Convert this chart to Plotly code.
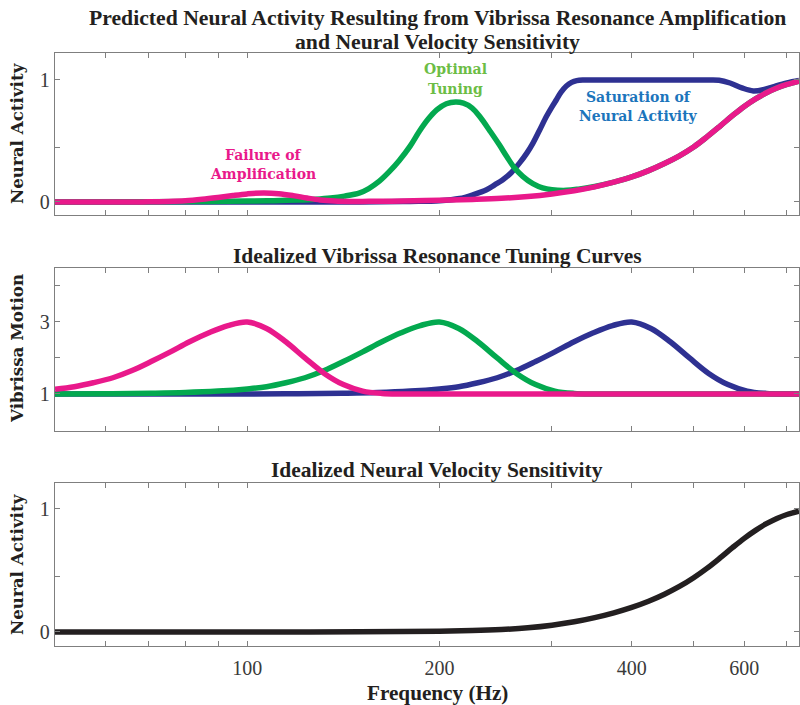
import math
import plotly.graph_objects as go

# ---------------- data ----------------
# Panel 1: predicted neural activity (tuning curve fed through velocity sensitivity)
act_blue_f = [50, 150, 180, 200, 215, 226, 237, 244, 251, 259, 267, 274, 280, 287, 294, 300, 305,
              310, 316, 322, 328, 336, 350, 380, 420, 460, 500, 525, 548, 570, 595, 620, 645, 670,
              700, 731]
act_blue_v = [0.0, 0.0, 0.004, 0.01, 0.028, 0.06, 0.1, 0.14, 0.18, 0.24, 0.32, 0.4, 0.48, 0.59,
              0.7, 0.78, 0.84, 0.9, 0.95, 0.98, 0.995, 1.0, 1.0, 1.0, 1.0, 1.0, 1.0, 1.0, 0.998,
              0.975, 0.935, 0.91, 0.922, 0.948, 0.975, 0.995]

act_green_f = [50, 70, 85, 100, 110, 120, 128, 135, 142, 150, 155, 161, 167, 173, 180, 186, 192,
               198, 205, 212, 218, 225, 232, 240, 248, 255, 262, 270, 280, 290, 300, 316, 330, 350,
               375, 400, 425, 450, 475, 500, 525, 550, 575, 600, 625, 650, 675, 700, 731]
act_green_v = [0.0, 0.001, 0.004, 0.008, 0.01, 0.015, 0.022, 0.032, 0.048, 0.075, 0.11, 0.17,
               0.25, 0.34, 0.46, 0.58, 0.68, 0.755, 0.805, 0.82, 0.81, 0.77, 0.69, 0.58, 0.47,
               0.37, 0.28, 0.21, 0.15, 0.115, 0.1, 0.095, 0.105, 0.127, 0.162, 0.205, 0.257,
               0.315, 0.378, 0.45, 0.535, 0.622, 0.707, 0.783, 0.845, 0.895, 0.934, 0.963, 0.99]

act_pink_f = [50, 65, 70, 75, 80, 85, 90, 95, 100, 106, 112, 118, 124, 130, 137, 145, 155, 165,
              175, 200, 225, 250, 275, 300, 325, 350, 375, 400, 425, 450, 475, 500, 525, 550,
              575, 600, 625, 650, 675, 700, 731]
act_pink_v = [0.0, 0.0, 0.001, 0.004, 0.01, 0.022, 0.037, 0.053, 0.066, 0.074, 0.068, 0.052,
              0.032, 0.016, 0.007, 0.004, 0.005, 0.006, 0.008, 0.014, 0.021, 0.03, 0.045, 0.066,
              0.092, 0.124, 0.162, 0.205, 0.257, 0.315, 0.378, 0.45, 0.535, 0.622, 0.707, 0.783,
              0.845, 0.895, 0.934, 0.963, 0.99]

# Panel 2: idealized vibrissa resonance tuning curves (peaks at 100, 200 and 400 Hz)
tune_pink_f = [50, 53.6, 57.4, 61.6, 66, 70.7, 75.8, 81.2, 87.1, 93.3, 100, 107.2, 114.9, 123.1,
               132, 141.4, 151.6, 162.5, 174.1, 200, 250, 320, 400, 520, 731]
tune_pink_v = [1.13, 1.2, 1.31, 1.45, 1.65, 1.9, 2.17, 2.45, 2.7, 2.9, 3.0, 2.82, 2.45, 2.0, 1.57,
               1.26, 1.08, 1.015, 1.0, 1.0, 1.0, 1.0, 1.0, 1.0, 1.0]

tune_green_f = [50, 60, 70.7, 80, 90, 100, 107.2, 114.9, 123.1, 132, 141.4, 151.6, 162.5, 174.1,
                186.6, 200, 214.4, 229.7, 246.2, 263.9, 282.8, 303.1, 324.9, 348.2, 400, 500, 600,
                731]
tune_green_v = [1.0, 1.005, 1.02, 1.04, 1.08, 1.14, 1.2, 1.31, 1.45, 1.65, 1.9, 2.17, 2.45, 2.7,
                2.9, 3.0, 2.82, 2.45, 2.0, 1.57, 1.26, 1.08, 1.015, 1.0, 1.0, 1.0, 1.0, 1.0]

tune_blue_f = [50, 70.7, 100, 120, 141, 160, 180, 200, 214.4, 229.7, 246.2, 263.9, 282.8, 303.1,
               324.9, 348.2, 373.2, 400, 428.7, 459.5, 492.5, 527.8, 565.7, 606.3, 649.8, 696.4,
               731]
tune_blue_v = [1.0, 1.0, 1.0, 1.005, 1.02, 1.04, 1.08, 1.14, 1.2, 1.31, 1.45, 1.65, 1.9, 2.17,
               2.45, 2.7, 2.9, 3.0, 2.82, 2.45, 2.0, 1.57, 1.26, 1.08, 1.015, 1.0, 1.0]

# Panel 3: idealized neural velocity sensitivity
vel_f = [50, 100, 125, 150, 175, 200, 225, 250, 275, 300, 325, 350, 375, 400, 425, 450, 475, 500,
         525, 550, 575, 600, 625, 650, 675, 700, 731]
vel_v = [0.0, 0.0, 0.0, 0.001, 0.003, 0.006, 0.011, 0.02, 0.034, 0.055, 0.083, 0.117, 0.156, 0.2,
         0.25, 0.307, 0.37, 0.441, 0.519, 0.602, 0.685, 0.761, 0.826, 0.88, 0.923, 0.955, 0.983]

x_tick_vals = [60, 70, 80, 90, 100, 200, 300, 400, 500, 600, 700]
x_tick_text = ["", "", "", "", "100", "200", "", "400", "", "600", ""]

# ---------------- styling ----------------
PINK = "#e9198b"
GREEN = "#03a94f"
BLUE = "#2e3192"
BLACK = "#231f20"
PINK_TXT = "#e9198b"
GREEN_TXT = "#6cbd45"
BLUE_TXT = "#1c75bc"
AXIS = "#7f7f7f"
SERIF = "Liberation Serif"
WIDE_SERIF = "DejaVu Serif"
LW = 5.5

W, H = 800, 705


def py(pix):
    """pixel row -> paper y"""
    return 1 - pix / H


def px(pix):
    """pixel column -> paper x"""
    return pix / W


fig = go.Figure()


def add(xs, ys, color, xa, ya):
    fig.add_trace(go.Scatter(x=xs, y=ys, mode="lines", xaxis=xa, yaxis=ya,
                             line=dict(color=color, width=LW, shape="spline", smoothing=1.0),
                             hoverinfo="skip", showlegend=False))


add(act_blue_f, act_blue_v, BLUE, "x", "y")
add(act_green_f, act_green_v, GREEN, "x", "y")
add(act_pink_f, act_pink_v, PINK, "x", "y")

add(tune_blue_f, tune_blue_v, BLUE, "x2", "y2")
add(tune_green_f, tune_green_v, GREEN, "x2", "y2")
add(tune_pink_f, tune_pink_v, PINK, "x2", "y2")

add(vel_f, vel_v, BLACK, "x3", "y3")

xdom = [px(55), px(799)]
xrange = [math.log10(50), math.log10(731)]
tickfont = dict(family=SERIF, size=20, color="#3a3a3a")

common_x = dict(type="log", range=xrange, domain=xdom, tickmode="array", tickvals=x_tick_vals,
                ticks="inside", ticklen=5, tickwidth=1, tickcolor=AXIS, showline=True,
                linecolor=AXIS, linewidth=1.4, mirror="ticks", showgrid=False, zeroline=False,
                tickfont=tickfont, fixedrange=True)
common_y = dict(ticks="inside", ticklen=5, tickwidth=1, tickcolor=AXIS, showline=True,
                linecolor=AXIS, linewidth=1.4, mirror="ticks", showgrid=False, zeroline=False,
                tickfont=tickfont, tickmode="array", fixedrange=True)

fig.update_layout(
    width=W, height=H, margin=dict(l=0, r=0, t=0, b=0), autosize=False,
    paper_bgcolor="white", plot_bgcolor="white",
    xaxis=dict(common_x, anchor="y", ticktext=[""] * len(x_tick_vals)),
    xaxis2=dict(common_x, anchor="y2", ticktext=[""] * len(x_tick_vals)),
    xaxis3=dict(common_x, anchor="y3", ticktext=x_tick_text, ticklabelstandoff=4),
    yaxis=dict(common_y, anchor="x", domain=[py(215), py(53)], range=[-0.107, 1.221],
               tickvals=[0, 0.45, 1], ticktext=["0", "", "1"]),
    yaxis2=dict(common_y, anchor="x2", domain=[py(431), py(268)], range=[-0.03, 4.5],
                tickvals=[1, 2, 3, 4], ticktext=["1", "", "3", ""]),
    yaxis3=dict(common_y, anchor="x3", domain=[py(646), py(483)], range=[-0.114, 1.211],
                tickvals=[0, 0.45, 1], ticktext=["0", "", "1"]),
)

annotations = []


def text(x, y, s, size, color, family=SERIF, bold=True, angle=0):
    annotations.append(dict(
        x=px(x), y=py(y), xref="paper", yref="paper", text=f"<b>{s}</b>" if bold else s,
        showarrow=False, xanchor="center", yanchor="middle", textangle=angle,
        font=dict(family=family, size=size, color=color)))


# titles
text(437, 18, "Predicted Neural Activity Resulting from Vibrissa Resonance Amplification", 21.7, BLACK)
text(437, 42, "and Neural Velocity Sensitivity", 21.7, BLACK)
text(437, 256, "Idealized Vibrissa Resonance Tuning Curves", 21.5, BLACK)
text(437, 470, "Idealized Neural Velocity Sensitivity", 21.5, BLACK)
text(437, 693, "Frequency (Hz)", 21.2, BLACK)

# y-axis titles
text(17, 133, "Neural Activity", 16.7, BLACK, family=WIDE_SERIF, angle=-90)
text(17, 349, "Vibrissa Motion", 16.7, BLACK, family=WIDE_SERIF, angle=-90)
text(17, 564, "Neural Activity", 16.7, BLACK, family=WIDE_SERIF, angle=-90)

# curve labels
text(263, 155, "Failure of", 14, PINK_TXT, family=WIDE_SERIF)
text(263, 174, "Amplification", 14, PINK_TXT, family=WIDE_SERIF)
text(455, 69, "Optimal", 14, GREEN_TXT, family=WIDE_SERIF)
text(455, 89, "Tuning", 14, GREEN_TXT, family=WIDE_SERIF)
text(638, 97, "Saturation of", 14, BLUE_TXT, family=WIDE_SERIF)
text(638, 116, "Neural Activity", 14, BLUE_TXT, family=WIDE_SERIF)

fig.update_layout(annotations=annotations)

fig.write_html("out.html")
